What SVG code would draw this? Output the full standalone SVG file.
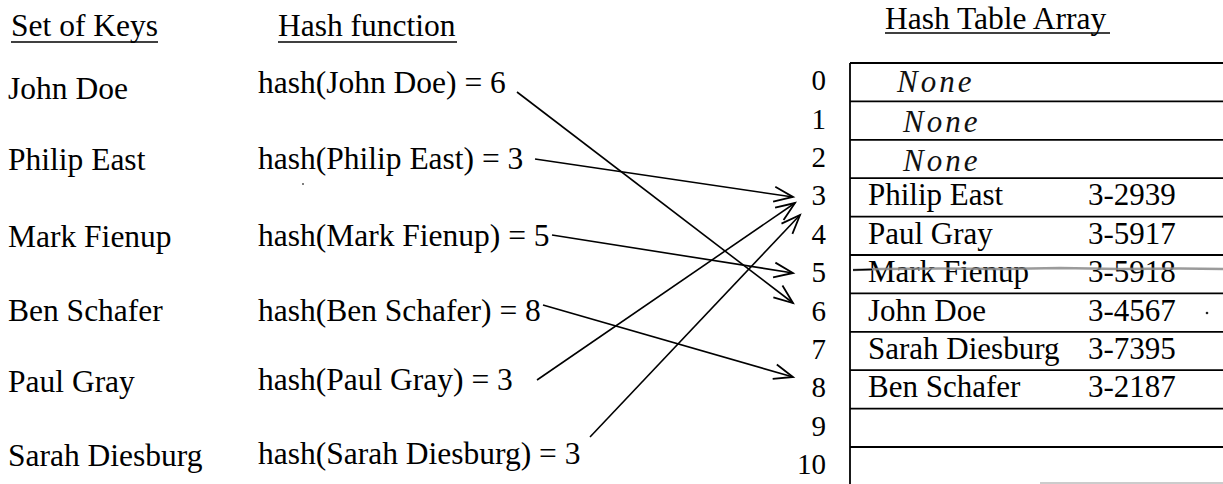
<svg xmlns="http://www.w3.org/2000/svg" width="1223" height="484" viewBox="0 0 1223 484">
  <style>
    .t { font-family: "Liberation Serif", "Times New Roman", serif; font-size: 31.5px; fill: #000; }
    .tb { font-family: "Liberation Serif", "Times New Roman", serif; font-size: 31px; fill: #000; }
    .idx { font-family: "Liberation Serif", "Times New Roman", serif; font-size: 29px; fill: #000; text-anchor: end; }
    .hand { font-family: "Liberation Serif", "Times New Roman", serif; font-style: italic; font-size: 31px; fill: #111; letter-spacing: 3px; }
    .ul { stroke: #000; stroke-width: 1.6; }
    .grid { stroke: #000; stroke-width: 1.8; fill: none; }
    .conn { stroke: #000; stroke-width: 1.6; fill: none; marker-end: url(#ah); }
  </style>
  <defs>
    <marker id="ah" viewBox="-20 -10 24 20" refX="0" refY="0" markerWidth="24" markerHeight="20" markerUnits="userSpaceOnUse" orient="auto">
      <path d="M-19,-7.5 L0,0 L-19,7.5" fill="none" stroke="#000" stroke-width="1.8"/>
    </marker>
  </defs>
  <rect width="1223" height="484" fill="#fff"/>

  <g id="headers">
    <text class="t" x="11" y="36">Set of Keys</text>
    <line class="ul" x1="11" y1="42" x2="158" y2="42"/>
    <text class="t" x="278" y="36">Hash function</text>
    <line class="ul" x1="278" y1="42" x2="457" y2="42"/>
    <text class="t" x="885" y="29">Hash Table Array</text>
    <line class="ul" x1="885" y1="33" x2="1110" y2="33"/>
  </g>

  <g id="keys">
    <text id="key-john" class="t" x="8" y="99">John Doe</text>
    <text id="key-philip" class="t" x="8" y="170">Philip East</text>
    <text id="key-mark" class="t" x="8" y="247">Mark Fienup</text>
    <text id="key-ben" class="t" x="8" y="321">Ben Schafer</text>
    <text id="key-paul" class="t" x="8" y="392">Paul Gray</text>
    <text id="key-sarah" class="t" x="8" y="466">Sarah Diesburg</text>
  </g>

  <g id="hashes">
    <text id="hash-john" class="t" x="258" y="93">hash(John Doe) = 6</text>
    <text id="hash-philip" class="t" x="258" y="169">hash(Philip East) = 3</text>
    <text id="hash-mark" class="t" x="258" y="246">hash(Mark Fienup) = 5</text>
    <text id="hash-ben" class="t" x="258" y="321">hash(Ben Schafer) = 8</text>
    <text id="hash-paul" class="t" x="258" y="390">hash(Paul Gray) = 3</text>
    <text id="hash-sarah" class="t" x="258" y="464">hash(Sarah Diesburg) = 3</text>
    <circle cx="303" cy="184" r="1" fill="#555"/>
  </g>

  <g id="table">
    <line class="grid" x1="850" y1="63" x2="850" y2="484"/>
    <line class="grid" x1="850" y1="63" x2="1223" y2="63"/>
    <line class="grid" x1="850" y1="101.4" x2="1223" y2="101.4"/>
    <line class="grid" x1="850" y1="139.8" x2="1223" y2="139.8"/>
    <line class="grid" x1="850" y1="178.2" x2="1223" y2="178.2"/>
    <line class="grid" x1="850" y1="216.6" x2="1223" y2="216.6"/>
    <line class="grid" x1="850" y1="255" x2="1223" y2="255"/>
    <line class="grid" x1="850" y1="293.4" x2="1223" y2="293.4"/>
    <line class="grid" x1="850" y1="331.8" x2="1223" y2="331.8"/>
    <line class="grid" x1="850" y1="370.2" x2="1223" y2="370.2"/>
    <line class="grid" x1="850" y1="408.6" x2="1223" y2="408.6"/>
    <line class="grid" x1="850" y1="447" x2="1223" y2="447"/>
    <line x1="1040" y1="483" x2="1223" y2="483" stroke="#bbb" stroke-width="1.5"/>

    <g id="idx">
      <text class="idx" x="826" y="90.2">0</text>
      <text class="idx" x="826" y="128.6">1</text>
      <text class="idx" x="826" y="167">2</text>
      <text class="idx" x="826" y="205.4">3</text>
      <text class="idx" x="826" y="243.8">4</text>
      <text class="idx" x="826" y="282.2">5</text>
      <text class="idx" x="826" y="320.6">6</text>
      <text class="idx" x="826" y="359">7</text>
      <text class="idx" x="826" y="397.4">8</text>
      <text class="idx" x="826" y="435.8">9</text>
      <text class="idx" x="826" y="474.2">10</text>
    </g>

    <g id="row0"><text class="hand" x="897" y="92">None</text></g>
    <g id="row1"><text class="hand" x="903" y="132">None</text></g>
    <g id="row2"><text class="hand" x="903" y="171">None</text></g>
    <g id="row3"><text class="tb" x="868" y="205.4">Philip East</text><text class="tb" x="1088" y="205.4">3-2939</text></g>
    <g id="row4"><text class="tb" x="868" y="243.8">Paul Gray</text><text class="tb" x="1088" y="243.8">3-5917</text></g>
    <g id="row5">
      <text class="tb" x="868" y="282.2">Mark Fienup</text><text class="tb" x="1088" y="282.2">3-5918</text>
      <path d="M853,270 L880,269 L940,268.5 L1000,269 L1060,268 L1120,269 L1180,268.5 L1223,269" fill="none" stroke="#8a8a8a" stroke-width="2.6" stroke-opacity="0.85"/>
      <line x1="853" y1="270" x2="872" y2="269.5" stroke="#000" stroke-width="1.5"/>
    </g>
    <g id="row6"><text class="tb" x="868" y="320.6">John Doe</text><text class="tb" x="1088" y="320.6">3-4567</text><circle cx="1207" cy="313" r="1.3" fill="#222"/></g>
    <g id="row7"><text class="tb" x="868" y="359">Sarah Diesburg</text><text class="tb" x="1088" y="359">3-7395</text></g>
    <g id="row8"><text class="tb" x="868" y="397.4">Ben Schafer</text><text class="tb" x="1088" y="397.4">3-2187</text></g>
  </g>

  <g id="connectors">
    <line class="conn" x1="517" y1="92" x2="793" y2="303"/>
    <line class="conn" x1="535" y1="159" x2="793" y2="197"/>
    <line class="conn" x1="552" y1="235" x2="793" y2="273"/>
    <line class="conn" x1="543" y1="305" x2="793" y2="377"/>
    <line class="conn" x1="537" y1="380" x2="795" y2="203"/>
    <line class="conn" x1="590" y1="437" x2="800" y2="215"/>
  </g>
</svg>
